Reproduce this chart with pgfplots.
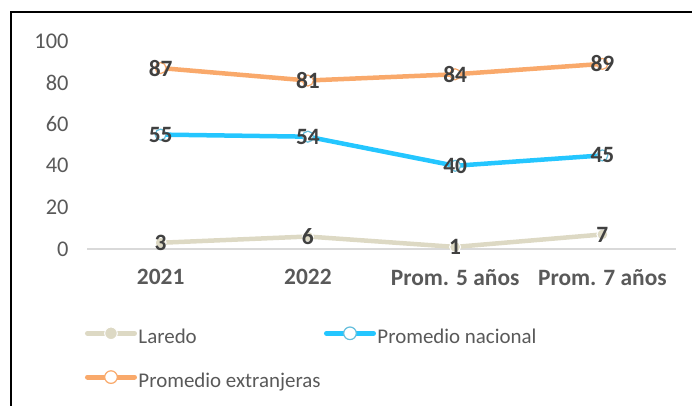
\documentclass[border=0pt]{standalone}
\usepackage{fontspec}
\setmainfont{Carlito}
\usepackage{pgfplots}
\pgfplotsset{compat=1.18}
\definecolor{laredo}{RGB}{221,217,196}
\definecolor{nacional}{RGB}{36,198,255}
\definecolor{nacionalmk}{RGB}{100,190,220}
\definecolor{extr}{RGB}{249,169,107}
\definecolor{lbl}{RGB}{64,64,64}
\definecolor{tck}{RGB}{89,89,89}
\definecolor{axl}{RGB}{217,217,217}
\begin{document}
\begin{tikzpicture}[x=1bp,y=1bp]
\useasboundingbox (0,0) rectangle (692,405);
\draw[line width=1.5bp,black] (11,-2) -- (11,393) -- (694,393);
\begin{axis}[
  at={(87bp,156bp)}, anchor=south west,
  scale only axis, width=589bp, height=208bp,
  xmin=-0.5, xmax=3.5, ymin=0, ymax=100,
  clip=false,
  axis x line*=bottom, axis y line*=left,
  x axis line style={draw=axl, line width=1.5bp, -},
  y axis line style={draw=none},
  xtick={0,1,2,3},
  xticklabels={2021,2022,Prom. 5 años,Prom. 7 años},
  ytick={0,20,40,60,80,100},
  major tick length=0pt,
  xticklabel style={font=\fontsize{23.5}{28}\selectfont\bfseries, text=tck, yshift=-17bp},
  yticklabel style={font=\fontsize{22.5}{27}\selectfont, text=tck, xshift=-15bp},
  /pgf/number format/assume math mode=true,
  nodes near coords,
  point meta=y,
  nodes near coords style={anchor=center, font=\fontsize{23.5}{28}\selectfont\bfseries, text=lbl},
  legend columns=2,
  legend style={draw=none, fill=none, at={(-0.0034,-0.375)}, anchor=north west,
    inner sep=0pt, outer sep=0pt,
    font=\fontsize{21}{25}\selectfont, text=tck,
    cells={anchor=west},
    row sep=22bp, column sep=1bp,
    nodes={inner sep=0.5pt, text height=15bp, text depth=5bp}},
  legend image code/.code={
    \draw[#1, line width=5bp, mark size=6.3bp, mark repeat=2, mark phase=2, line cap=round] plot coordinates {(0bp,5bp)(23.5bp,5bp)(47bp,5bp)};},
]
\addplot[laredo, line width=4.5bp, mark=*, mark size=5.5bp, mark options={fill=laredo, draw=white, line width=1bp}]
  coordinates {(0,3)(1,6)(2,1)(3,7)};
\addlegendentry{\makebox[184bp][l]{Laredo}}
\addplot[nacional, line width=4.5bp, mark=*, mark size=5.5bp, mark options={fill=white, draw=nacionalmk, line width=1.2bp}]
  coordinates {(0,55)(1,54)(2,40)(3,45)};
\addlegendentry{Promedio nacional}
\addplot[extr, line width=4.5bp, mark=*, mark size=5.5bp, mark options={fill=white, draw=extr, line width=1.2bp}]
  coordinates {(0,87)(1,81)(2,84)(3,89)};
\addlegendentry{Promedio extranjeras}
\end{axis}
\end{tikzpicture}
\end{document}
